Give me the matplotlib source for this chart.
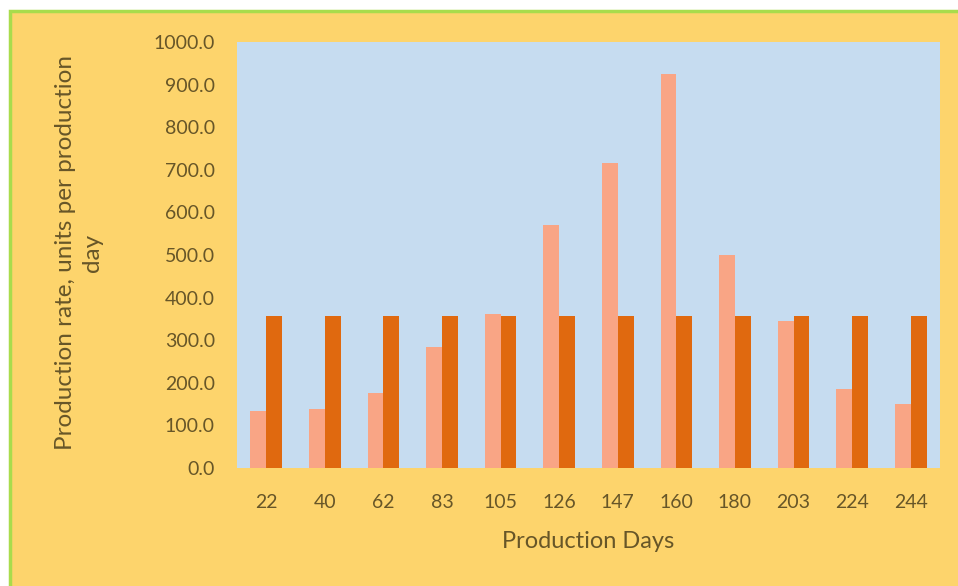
import matplotlib.pyplot as plt
import numpy as np
from matplotlib.patches import Rectangle

# Production days on the x axis
days = ["22", "40", "62", "83", "105", "126", "147", "160", "180", "203", "224", "244"]

# Actual production rate per day (units per production day)
actual_rate = [133, 138, 175, 285, 362, 570, 715, 925, 500, 345, 185, 150]

# Planned average rate, same for every day
planned_rate = [357, 357, 357, 357, 357, 357, 357, 357, 357, 357, 357, 357]

text_color = "#675628"
page_color = "#fdd46c"
plot_color = "#c6dcf0"
light_bar = "#f9a585"
dark_bar = "#e0690f"

plt.rcParams["font.family"] = ["Lato", "DejaVu Sans"]

fig = plt.figure(figsize=(9.58, 5.86), dpi=100, facecolor="white")

# Yellow chart box with a thin green frame
frame = Rectangle((10 / 958, -0.05), 1.1, 1 - 11 / 586 + 0.05,
                  transform=fig.transFigure, facecolor=page_color,
                  edgecolor="#a9dc4c", linewidth=2.5, zorder=-10)
fig.patches.append(frame)

ax = fig.add_axes([237 / 958, 1 - 468 / 586, 703 / 958, 426 / 586])
ax.set_zorder(5)
ax.set_facecolor(plot_color)

x = np.arange(len(days))
width = 0.27
ax.bar(x - width / 2, actual_rate, width, color=light_bar, zorder=2)
ax.bar(x + width / 2, planned_rate, width, color=dark_bar, zorder=2)

ax.set_xlim(-0.5, len(days) - 0.5)
ax.set_ylim(0, 1000)
ax.set_yticks(np.arange(0, 1001, 100))
ax.set_yticklabels([f"{v:.1f}" for v in np.arange(0, 1001, 100)])
ax.set_xticks(x)
ax.set_xticklabels(days)

for spine in ax.spines.values():
    spine.set_visible(False)
ax.tick_params(axis="both", length=0, colors=text_color, labelsize=14)
ax.tick_params(axis="y", pad=16)
ax.tick_params(axis="x", pad=19)

ax.set_xlabel("Production Days", color=text_color, fontsize=17, labelpad=14)

fig.text(79 / 958, 1 - 253 / 586, "Production rate, units per production\nday",
         rotation=90, ha="center", va="center", multialignment="center",
         color=text_color, fontsize=17.5, linespacing=1.4, zorder=6)

fig.savefig("out.png", dpi=100, facecolor=fig.get_facecolor())
